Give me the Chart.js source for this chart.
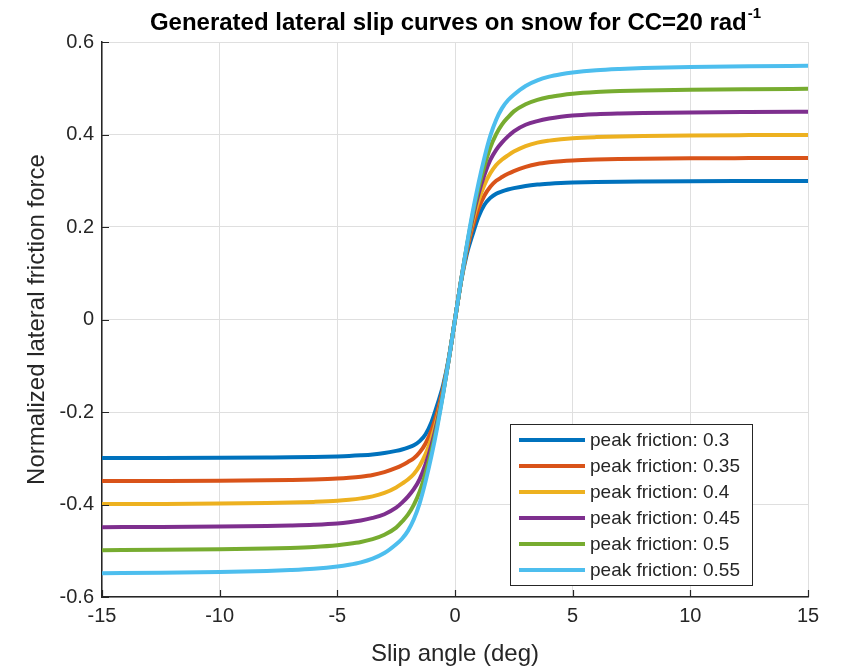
<!DOCTYPE html>
<html>
<head>
<meta charset="utf-8">
<script src="https://cdn.jsdelivr.net/npm/chart.js@4.4.1/dist/chart.umd.min.js"></script>
<style>
  html, body { margin: 0; padding: 0; background: #ffffff; }
  #wrap { width: 841px; height: 668px; position: relative; }
</style>
</head>
<body>
<div id="wrap"><canvas id="c" width="841" height="668"></canvas></div>
<script>
// ---------------- data ----------------
const slipAngle = [-15,-12.5,-10,-8,-7,-6,-5,-4.5,-4,-3.5,-3,-2.5,-2.25,-2,-1.75,-1.5,-1.25,-1,-0.75,-0.5,-0.25,0,
                   0.25,0.5,0.75,1,1.25,1.5,1.75,2,2.25,2.5,3,3.5,4,4.5,5,6,7,8,10,12.5,15];

const fric030 = [-0.2996,-0.2994,-0.299,-0.2984,-0.298,-0.2972,-0.296,-0.2951,-0.2937,-0.2918,-0.2888,-0.284,-0.281,-0.277,-0.272,-0.263,-0.248,-0.222,-0.184,-0.141,-0.080,0,
                 0.080,0.141,0.184,0.222,0.248,0.263,0.272,0.277,0.281,0.284,0.2888,0.2918,0.2937,0.2951,0.296,0.2972,0.298,0.2984,0.299,0.2994,0.2996];
const fric035 = [-0.3493,-0.349,-0.3485,-0.3477,-0.3469,-0.3458,-0.344,-0.3424,-0.340,-0.3363,-0.330,-0.321,-0.315,-0.308,-0.300,-0.287,-0.268,-0.240,-0.200,-0.148,-0.081,0,
                 0.081,0.148,0.200,0.240,0.268,0.287,0.300,0.308,0.315,0.321,0.330,0.3363,0.340,0.3424,0.344,0.3458,0.3469,0.3477,0.3485,0.349,0.3493];
const fric040 = [-0.3991,-0.3987,-0.398,-0.3969,-0.3959,-0.3944,-0.392,-0.3898,-0.3868,-0.3825,-0.375,-0.363,-0.355,-0.346,-0.334,-0.316,-0.291,-0.257,-0.212,-0.153,-0.081,0,
                 0.081,0.153,0.212,0.257,0.291,0.316,0.334,0.346,0.355,0.363,0.375,0.3825,0.3868,0.3898,0.392,0.3944,0.3959,0.3969,0.398,0.3987,0.3991];
const fric045 = [-0.449,-0.4486,-0.4478,-0.4465,-0.4454,-0.4438,-0.441,-0.4383,-0.4345,-0.429,-0.421,-0.407,-0.396,-0.383,-0.367,-0.345,-0.313,-0.272,-0.220,-0.156,-0.082,0,
                 0.082,0.156,0.220,0.272,0.313,0.345,0.367,0.383,0.396,0.407,0.421,0.429,0.4345,0.4383,0.441,0.4438,0.4454,0.4465,0.4478,0.4486,0.449];
const fric050 = [-0.4987,-0.4981,-0.497,-0.4953,-0.4939,-0.4917,-0.488,-0.485,-0.481,-0.475,-0.4655,-0.450,-0.437,-0.422,-0.401,-0.372,-0.332,-0.284,-0.226,-0.158,-0.082,0,
                 0.082,0.158,0.226,0.284,0.332,0.372,0.401,0.422,0.437,0.450,0.4655,0.475,0.481,0.485,0.488,0.4917,0.4939,0.4953,0.497,0.4981,0.4987];
const fric055 = [-0.5485,-0.5476,-0.546,-0.5438,-0.5418,-0.5389,-0.534,-0.5302,-0.525,-0.517,-0.505,-0.486,-0.474,-0.457,-0.432,-0.397,-0.350,-0.295,-0.232,-0.160,-0.082,0,
                 0.082,0.160,0.232,0.295,0.350,0.397,0.432,0.457,0.474,0.486,0.505,0.517,0.525,0.5302,0.534,0.5389,0.5418,0.5438,0.546,0.5476,0.5485];

const seriesValues = [fric030, fric035, fric040, fric045, fric050, fric055];
const legendLabels = ['peak friction: 0.3','peak friction: 0.35','peak friction: 0.4',
                      'peak friction: 0.45','peak friction: 0.5','peak friction: 0.55'];
const seriesColors = ['#0072BD','#D95319','#EDB120','#7E2F8E','#77AC30','#4DBEEE'];

const xTickValues = [-15,-10,-5,0,5,10,15];
const xTickLabels = ['-15','-10','-5','0','5','10','15'];
const yTickValues = [-0.6,-0.4,-0.2,0,0.2,0.4,0.6];
const yTickLabels = ['-0.6','-0.4','-0.2','0','0.2','0.4','0.6'];

const titleMain = 'Generated lateral slip curves on snow for CC=20 rad';
const titleSup = '-1';
const xAxisTitle = 'Slip angle (deg)';
const yAxisTitle = 'Normalized lateral friction force';

// ---------------- styling ----------------
const FONT = '"Liberation Sans", Arial, Helvetica, sans-serif';
const AXIS_COLOR = '#262626';
const GRID_COLOR = '#dfdfdf';
const LINE_W = 4;

const datasets = seriesValues.map((vals, i) => ({
  label: legendLabels[i],
  data: slipAngle.map((x, j) => ({ x: x, y: vals[j] })),
  borderColor: seriesColors[i],
  backgroundColor: seriesColors[i],
  borderWidth: LINE_W,
  pointRadius: 0,
  fill: false,
  cubicInterpolationMode: 'monotone',
  order: seriesValues.length - i
}));

const decorPlugin = {
  id: 'decor',
  afterDraw(chart) {
    const ctx = chart.ctx;
    const xs = chart.scales.x, ys = chart.scales.y;
    const area = chart.chartArea;
    ctx.save();
    // inward tick marks
    ctx.strokeStyle = AXIS_COLOR;
    ctx.lineWidth = 1.2;
    ctx.beginPath();
    xTickValues.forEach(v => {
      const px = Math.round(xs.getPixelForValue(v)) + 0.5;
      ctx.moveTo(px, area.bottom);
      ctx.lineTo(px, area.bottom - 7);
    });
    yTickValues.forEach(v => {
      const py = Math.round(ys.getPixelForValue(v)) + 0.5;
      ctx.moveTo(area.left, py);
      ctx.lineTo(area.left + 7, py);
    });
    ctx.stroke();

    // legend box
    const lx = 510.5, ly = 424.5, lw = 242, lh = 161;
    ctx.fillStyle = '#ffffff';
    ctx.fillRect(lx, ly, lw, lh);
    ctx.strokeStyle = AXIS_COLOR;
    ctx.lineWidth = 1;
    ctx.strokeRect(lx, ly, lw, lh);
    ctx.font = '19px ' + FONT;
    ctx.textAlign = 'left';
    ctx.textBaseline = 'middle';
    legendLabels.forEach((lab, i) => {
      const ry = 440 + i * 26;
      ctx.strokeStyle = seriesColors[i];
      ctx.lineWidth = LINE_W;
      ctx.beginPath();
      ctx.moveTo(519, ry);
      ctx.lineTo(585, ry);
      ctx.stroke();
      ctx.fillStyle = AXIS_COLOR;
      ctx.fillText(lab, 590, ry + 1);
    });

    // title with superscript
    ctx.fillStyle = '#000000';
    ctx.textBaseline = 'alphabetic';
    ctx.font = 'bold 24px ' + FONT;
    const w1 = ctx.measureText(titleMain).width;
    ctx.font = 'bold 15px ' + FONT;
    const w2 = ctx.measureText(titleSup).width;
    const cx = (area.left + area.right) / 2;
    const sx = cx - (w1 + w2) / 2;
    ctx.font = 'bold 24px ' + FONT;
    ctx.fillText(titleMain, sx, 30);
    ctx.font = 'bold 15px ' + FONT;
    ctx.fillText(titleSup, sx + w1 + 1, 18);

    // axis titles
    ctx.fillStyle = AXIS_COLOR;
    ctx.font = '24px ' + FONT;
    ctx.textAlign = 'center';
    ctx.textBaseline = 'middle';
    ctx.fillText(xAxisTitle, cx, 654);
    ctx.save();
    ctx.translate(37, (area.top + area.bottom) / 2);
    ctx.rotate(-Math.PI / 2);
    ctx.fillText(yAxisTitle, 0, 0);
    ctx.restore();
    ctx.restore();
  }
};

new Chart(document.getElementById('c'), {
  type: 'line',
  data: { datasets: datasets },
  options: {
    responsive: false,
    animation: false,
    devicePixelRatio: 1,
    layout: { padding: { top: 42, right: 33, left: 0, bottom: 0 } },
    plugins: { legend: { display: false }, title: { display: false }, tooltip: { enabled: false } },
    scales: {
      x: {
        type: 'linear',
        min: -15, max: 15,
        afterFit(s) { s.height = 71; },
        afterBuildTicks(s) { s.ticks = xTickValues.map(v => ({ value: v })); },
        ticks: {
          callback: (v, i) => xTickLabels[i],
          color: AXIS_COLOR,
          font: { family: FONT, size: 20 },
          padding: 7,
          maxRotation: 0, autoSkip: false
        },
        grid: { color: GRID_COLOR, lineWidth: 1, drawTicks: false },
        border: { color: AXIS_COLOR, width: 1.5 }
      },
      y: {
        type: 'linear',
        min: -0.6, max: 0.6,
        afterFit(s) { s.width = 102; },
        afterBuildTicks(s) { s.ticks = yTickValues.map(v => ({ value: v })); },
        ticks: {
          callback: (v, i) => yTickLabels[i],
          color: AXIS_COLOR,
          font: { family: FONT, size: 20 },
          padding: 8,
          autoSkip: false
        },
        grid: { color: GRID_COLOR, lineWidth: 1, drawTicks: false },
        border: { color: AXIS_COLOR, width: 1.5 }
      }
    }
  },
  plugins: [decorPlugin]
});
</script>
</body>
</html>
